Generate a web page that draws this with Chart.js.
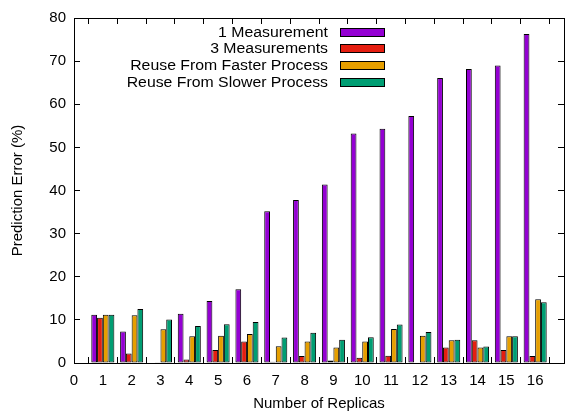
<!DOCTYPE html>
<html>
<head>
<meta charset="utf-8">
<script src="https://cdn.jsdelivr.net/npm/chart.js@4.4.1/dist/chart.umd.min.js"></script>
<style>
  html, body { margin: 0; padding: 0; background: #fff; }
  #wrap { width: 565px; height: 411px; }
</style>
</head>
<body>
<div id="wrap"><canvas id="barChart"></canvas></div>
<script>
// replicas on the x axis
var replicas = [1, 2, 3, 4, 5, 6, 7, 8, 9, 10, 11, 12, 13, 14, 15, 16];

// prediction error (%) per series
var oneMeasurement    = [11.2, 7.3, 0, 11.4, 14.4, 17.1, 35.2, 37.8, 41.4, 53.2, 54.3, 57.3, 66.1, 68.2, 69.0, 76.3];
var threeMeasurements = [10.5, 2.2, 0.2, 0.8, 3.0, 5.0, 0.3, 1.6, 0.6, 1.2, 1.7, 0.1, 3.6, 5.3, 3.0, 1.6];
var reuseFaster       = [11.2, 11.1, 7.8, 6.2, 6.3, 6.7, 3.9, 5.0, 3.6, 5.0, 7.9, 6.3, 5.3, 3.6, 6.2, 14.8];
var reuseSlower       = [11.2, 12.5, 10.1, 8.6, 9.0, 9.5, 5.9, 7.0, 5.4, 6.0, 8.9, 7.2, 5.4, 3.8, 6.2, 14.1];

var yTicks = [0, 10, 20, 30, 40, 50, 60, 70, 80];

function points(vals) {
  return replicas.map(function (r, i) { return { x: r, y: vals[i] }; });
}

var FONT = "'Liberation Sans', Arial, sans-serif";

// gnuplot-like frame: border on all four axes, tick marks pointing inward
var frameGrid = { display: true, drawOnChartArea: false, drawTicks: true, tickLength: -6, color: '#000', lineWidth: 1 };
var frameBorder = { display: true, color: '#000', width: 1 };

// the tick label padding must not eat into the plot area
function noEdgePadding(s) {
  s.paddingLeft = 0; s.paddingRight = 0;
  s.paddingTop = 0; s.paddingBottom = 0;
}

// legend: right-aligned text with the colour box on its right
var legendPlugin = {
  id: 'gpLegend',
  afterDraw: function (chart) {
    var ctx = chart.ctx;
    ctx.save();
    ctx.font = '14px ' + FONT;
    ctx.textBaseline = 'middle';
    chart.data.datasets.forEach(function (ds, i) {
      var cy = Math.round(31.7 + i * 16.67);
      ctx.save();
      ctx.translate(328, cy);
      ctx.scale(1.13, 1);
      ctx.textAlign = 'right';
      ctx.fillStyle = '#000';
      ctx.fillText(ds.label, 0, 1);
      ctx.restore();
      ctx.fillStyle = '#000';
      ctx.fillRect(340, cy - 4, 45, 9);
      ctx.fillStyle = ds.backgroundColor;
      ctx.fillRect(341, cy - 3, 43, 7);
    });
    ctx.restore();
  }
};

new Chart(document.getElementById('barChart').getContext('2d'), {
  type: 'bar',
  data: {
    datasets: [{
      label: '1 Measurement',
      data: points(oneMeasurement),
      backgroundColor: '#9400d3'
    }, {
      label: '3 Measurements',
      data: points(threeMeasurements),
      backgroundColor: '#e51e10'
    }, {
      label: 'Reuse From Faster Process',
      data: points(reuseFaster),
      backgroundColor: '#e69f00'
    }, {
      label: 'Reuse From Slower Process',
      data: points(reuseSlower),
      backgroundColor: '#009e73'
    }]
  },
  options: {
    responsive: true,
    maintainAspectRatio: false,
    animation: false,
    datasets: {
      bar: {
        borderColor: '#000',
        borderWidth: 1,
        borderSkipped: false,
        categoryPercentage: 0.8,
        barPercentage: 1.0
      }
    },
    layout: { padding: { top: 18, right: 1, left: 0, bottom: 0 } },
    plugins: {
      legend: { display: false },
      tooltip: { enabled: false }
    },
    scales: {
      x: {
        type: 'linear',
        position: 'bottom',
        min: 0,
        max: 17,
        offset: false,
        grid: frameGrid,
        border: frameBorder,
        ticks: {
          stepSize: 1,
          padding: 15,
          color: '#000',
          font: { family: FONT, size: 15 },
          maxRotation: 0,
          autoSkip: false,
          callback: function (v) { return v > 16 ? '' : v; }
        },
        title: {
          display: true,
          text: 'Number of Replicas',
          color: '#000',
          font: { family: FONT, size: 15 },
          padding: { top: 0, bottom: -2 }
        },
        afterFit: function (s) { s.height = 48; noEdgePadding(s); }
      },
      x2: {
        type: 'linear',
        position: 'top',
        min: 0,
        max: 17,
        offset: false,
        grid: frameGrid,
        border: frameBorder,
        ticks: { stepSize: 1, display: false, autoSkip: false },
        afterFit: function (s) { s.height = 0; noEdgePadding(s); }
      },
      y: {
        position: 'left',
        min: 0,
        max: 80,
        grid: frameGrid,
        border: frameBorder,
        afterBuildTicks: function (s) {
          s.ticks = yTicks.map(function (v) { return { value: v }; });
        },
        ticks: {
          padding: 14,
          color: '#000',
          font: { family: FONT, size: 15 }
        },
        title: {
          display: true,
          text: 'Prediction Error (%)',
          color: '#000',
          font: { family: FONT, size: 15 },
          padding: { top: 9, bottom: 0 }
        },
        afterFit: function (s) { s.width = 74; noEdgePadding(s); }
      },
      y2: {
        position: 'right',
        min: 0,
        max: 80,
        grid: frameGrid,
        border: frameBorder,
        afterBuildTicks: function (s) {
          s.ticks = yTicks.map(function (v) { return { value: v }; });
        },
        ticks: { display: false },
        afterFit: function (s) { s.width = 0; noEdgePadding(s); }
      }
    }
  },
  plugins: [legendPlugin]
});
</script>
</body>
</html>
